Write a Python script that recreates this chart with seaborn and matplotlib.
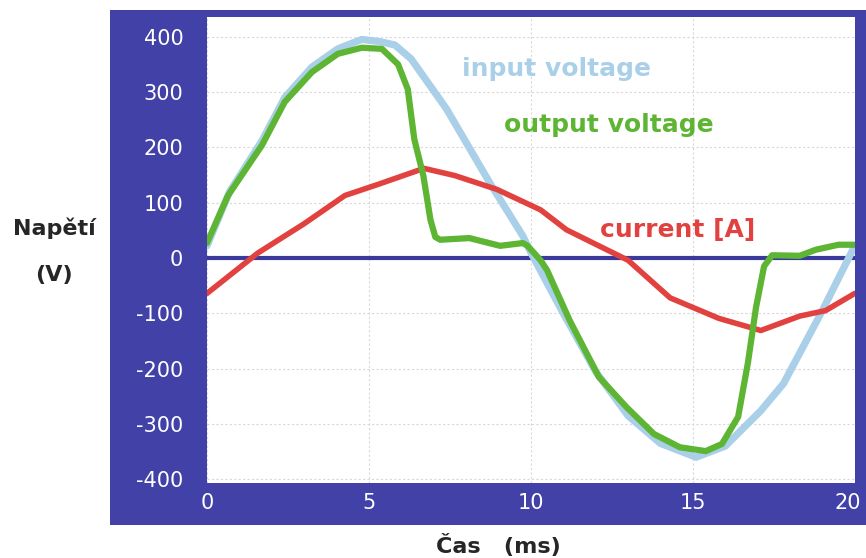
import matplotlib
matplotlib.use("Agg")
import matplotlib.pyplot as plt
import matplotlib.transforms as mtransforms
import numpy as np
import pandas as pd
import seaborn as sns
from matplotlib.patches import Rectangle

# values (time in ms)
t_input = [0, 0.7, 1.7, 2.4, 3.24, 4.04, 4.78, 5.34, 5.8, 6.3, 7.4, 8.73, 9.75, 10, 11, 12, 13, 14, 15.1, 16, 17.1, 17.8, 19, 20]
v_input = [22, 120, 212, 290, 345, 378, 395, 391, 385, 360, 269, 136, 40, 10, -100, -205, -285, -335, -360, -340, -276, -227, -95, 22]

t_output = [0, 0.65, 1.7, 2.4, 3.24, 4.04, 4.78, 5.4, 5.9, 6.2, 6.4, 6.68, 6.9, 7.05, 7.2, 8.1, 9.05, 9.75,
            9.9, 10.3, 10.5, 11.2, 12.1, 12.96, 13.8, 14.6, 15.4, 15.9, 16.4, 16.7, 16.95, 17.2, 17.45, 18.3,
            18.8, 19.5, 20]
v_output = [27, 113, 204, 282, 336, 369, 380, 378, 350, 305, 215, 149, 69, 38, 33, 36, 22, 27,
            22, -4, -22, -113, -215, -270, -318, -342, -349, -336, -287, -190, -90, -15, 5, 4,
            15, 24, 24]

t_current = [0, 1.57, 3, 4.26, 5.28, 6.7, 7.65, 8.95, 10.3, 11.1, 12.1, 13.0, 14.3, 15.8, 17.1, 18.3, 19.1, 20]
i_current = [-64, 9, 62, 113, 133, 162, 149, 124, 87, 51, 22, -4, -72, -109, -131, -105, -95, -64]

x_ticks = [0, 5, 10, 15, 20]
y_ticks = [-400, -300, -200, -100, 0, 100, 200, 300, 400]

frame_blue = "#4141a8"
zero_blue = "#3a3a9c"
c_input = "#a9d0e8"
c_output = "#5db533"
c_current = "#e2423f"

sns.set_style("white")
plt.rcParams["font.family"] = ["DejaVu Sans"]
plt.rcParams["axes.unicode_minus"] = False

fig = plt.figure(figsize=(8.66, 5.58), dpi=100)
fig.patches.append(Rectangle((0.127, 0.059), 0.873, 0.923, transform=fig.transFigure,
                             facecolor=frame_blue, edgecolor="none", zorder=-10))
ax = fig.add_axes([0.239, 0.134, 0.748, 0.836])
ax.set_zorder(5)
ax.set_facecolor("white")

df_in = pd.DataFrame({"t": t_input, "v": v_input})
df_out = pd.DataFrame({"t": t_output, "v": v_output})
df_cur = pd.DataFrame({"t": t_current, "v": i_current})

line_kw = dict(solid_joinstyle="round", solid_capstyle="round")
ax.axhline(0, color=zero_blue, lw=3, zorder=2)
sns.lineplot(data=df_in, x="t", y="v", ax=ax, color=c_input, lw=5.2, zorder=3, **line_kw)
sns.lineplot(data=df_cur, x="t", y="v", ax=ax, color=c_current, lw=4, zorder=4, **line_kw)
sns.lineplot(data=df_out, x="t", y="v", ax=ax, color=c_output, lw=4.5, zorder=5, **line_kw)

ax.set_xlim(0, 20)
ax.set_ylim(-407, 436)
ax.set_xticks(x_ticks)
ax.set_yticks(y_ticks)
ax.grid(True, color="#d8d8d8", lw=0.8, ls=(0, (2, 2)))
ax.tick_params(axis="both", length=0, colors="white", labelsize=15)
ax.tick_params(axis="y", pad=17)
ax.tick_params(axis="x", pad=7)
ax.set_xlabel("")
ax.set_ylabel("")
for s in ax.spines.values():
    s.set_visible(False)

# the last x label sits against the right edge of the frame
last = ax.get_xticklabels()[-1]
last.set_transform(last.get_transform() + mtransforms.ScaledTranslation(-7 / 100, 0, fig.dpi_scale_trans))

ax.text(10.8, 342, "input voltage", color=c_input, fontsize=18, fontweight="bold", ha="center", va="center")
ax.text(12.4, 240, "output voltage", color=c_output, fontsize=18, fontweight="bold", ha="center", va="center")
ax.text(12.15, 50, "current [A]", color=c_current, fontsize=18, fontweight="bold", ha="left", va="center")

fig.text(54 / 866, 1 - 228 / 558, "Napětí", fontsize=16, fontweight="bold", ha="center", va="center")
fig.text(54 / 866, 1 - 275 / 558, "(V)", fontsize=16, fontweight="bold", ha="center", va="center")
fig.text(498 / 866, 1 - 545 / 558, "Čas   (ms)", fontsize=16, fontweight="bold", ha="center", va="center")

fig.savefig("out.png", dpi=100, facecolor="white")
